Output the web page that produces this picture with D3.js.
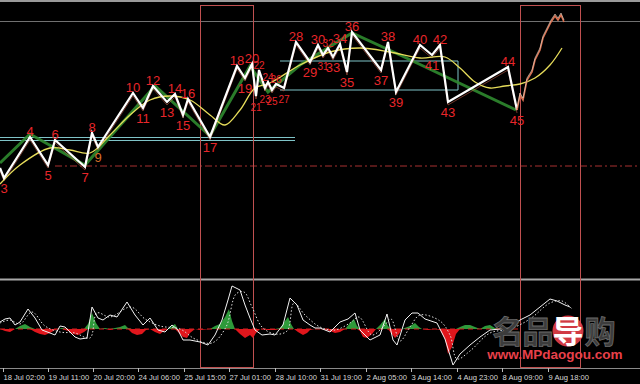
<!DOCTYPE html>
<html>
<head>
<meta charset="utf-8">
<script src="https://cdn.jsdelivr.net/npm/d3@7"></script>
<style>
  body { margin: 0; background: #000; }
  svg { display: block; }
</style>
</head>
<body>
<div id="chart"></div>
<script>
// chart size
var svgWidth = 640;
var svgHeight = 384;

// zigzag turning points: bar, price (pips above base)
var zzBars = [0, 4, 30, 48, 55, 85, 92, 98, 133, 143, 153, 167, 175, 183, 188, 210, 237, 245, 252, 256, 259,
  265, 268, 272, 276, 284, 296, 310, 318, 323, 328, 333, 340, 347, 352, 381, 388, 396, 420, 432, 440, 448, 508, 517];
var zzPrice = [110, 100, 141, 113, 138, 111, 145, 131, 185, 170, 192, 176, 184, 163, 179, 141, 212, 200, 214, 182, 208,
  190, 196, 188, 194, 190, 236, 216, 233, 223, 230, 221, 234, 206, 246, 208, 236, 186, 233, 223, 233, 176, 211, 168];
var zzLabels = ["", "3", "4", "5", "6", "7", "8", "9", "10", "11", "12", "13", "14", "15", "16", "17", "18", "19", "20", "21", "22",
  "23", "24", "25", "26", "27", "28", "29", "30", "31", "32", "33", "34", "35", "36", "37", "38", "39", "40", "41", "42", "43", "44", "45"];
// crowded labels drawn smaller
var smallLabels = ["21", "22", "23", "24", "25", "26", "27", "31", "32"];

// green swing line
var swBars = [0, 30, 85, 155, 210, 250, 268, 300, 352, 400, 516];
var swPrice = [115, 144, 113, 192, 142, 212, 186, 213, 245, 223, 168];

// yellow moving average
var maBars = [0, 20, 50, 70, 90, 110, 130, 150, 170, 190, 210, 225, 240, 255, 270, 300, 330, 360, 390, 420, 445, 460, 475, 490, 505, 520, 535, 550, 562];
var maPrice = [94, 113, 130, 128, 125, 143, 163, 178, 182, 178, 163, 153, 168, 190, 195, 213, 226, 230, 226, 220, 221, 210, 196, 190, 192, 194, 200, 213, 230];

// last price rally after point 45
var tailBars = [517, 520, 523, 527, 532, 535, 540, 543, 547, 551, 555, 558, 561, 564];
var tailPrice = [168, 183, 178, 198, 206, 218, 228, 240, 248, 256, 262, 258, 263, 256];

// oscillator line
var oscBars = [0, 5, 10, 15, 20, 28, 35, 42, 50, 55, 60, 65, 70, 75, 80, 87, 92, 98, 103, 110, 117, 127, 135, 143, 150, 158, 165,
  172, 178, 183, 190, 200, 208, 215, 222, 228, 232, 240, 245, 250, 255, 262, 270, 275, 283, 290, 297, 303, 310, 315, 320, 325,
  330, 340, 348, 355, 360, 365, 370, 380, 387, 393, 397, 405, 412, 418, 425, 437, 445, 453, 460, 470, 480, 490, 500, 510, 520,
  530, 540, 550, 557, 565, 570];
var oscVals = [7, 10, 11, 4, 7, 20, 11, -1, -4, -6, 3, 2, -3, -8, -10, -9, 22, 11, 9, 14, 12, 27, 14, 4, 11, -1, -3,
  4, -1, -11, -11, -13, -16, -6, 9, 29, 43, 39, 24, 11, -1, -6, -5, -6, 4, 31, 24, 9, 4, 1, 1, -1,
  -3, 7, 10, 16, -1, -6, -11, -6, 15, -11, -16, 9, 16, 16, 10, 6, -10, -36, -25, -16, -8, -1, 0, 1, 9,
  14, 22, 30, 28, 24, 22];

// signal line (dotted)
var sigBars = [0, 10, 20, 32, 45, 60, 75, 90, 97, 110, 131, 145, 160, 180, 195, 212, 226, 236, 244, 252, 262, 275, 287,
  294, 305, 320, 335, 350, 359, 372, 384, 391, 400, 410, 420, 440, 450, 457, 470, 490, 510, 530, 550, 562, 572];
var sigVals = [6, 9, 5, 17, 3, -3, -4, -9, 16, 12, 22, 10, 3, 0, -10, -14, 2, 35, 37, 22, 2, -5, -2,
  26, 14, 2, -1, 6, 12, -6, 3, 10, -12, 2, 14, 8, -6, -30, -22, -4, 0, 10, 26, 28, 20];

// histogram
var histBars = [0, 5, 10, 15, 20, 25, 30, 35, 40, 45, 50, 55, 58, 62, 68, 73, 78, 84, 88, 92, 96, 100, 105, 110, 115, 120,
  125, 128, 132, 137, 142, 146, 150, 155, 160, 164, 168, 172, 175, 178, 183, 187, 190, 195, 200, 210, 215, 220, 225, 229,
  232, 235, 240, 245, 250, 253, 256, 260, 268, 275, 280, 285, 288, 291, 294, 298, 303, 307, 310, 315, 320, 325, 330, 335,
  340, 345, 350, 354, 357, 360, 363, 367, 372, 376, 380, 385, 388, 391, 395, 399, 402, 410, 415, 419, 422, 428, 435, 440,
  445, 448, 452, 456, 460, 465, 470, 475, 480, 485, 490, 495, 500, 510];
var histVals = [0, -2, -3, 0, 3, 5, 2, -3, -5, -6, -4, -1, 0, 1, -2, -5, -6, -3, 5, 16, 6, 0, 1, -1, 1, 2,
  4, 1, -4, -6, -5, -1, 0, -3, -5, -2, 0, 3, 5, -3, -8, -9, -4, 0, -1, 0, 3, 5, 12, 20,
  8, 0, -5, -9, -6, -9, -4, 0, -1, -1, 1, 8, 12, 5, 0, -3, -6, -4, -1, 0, 0, -1, -2, -4,
  -3, 0, 6, 10, 3, -2, -8, -9, -5, 0, 4, 10, 3, -4, -9, -5, 0, 3, 6, 2, 0, -1, 0, -1,
  -10, -25, -18, -5, 2, 4, 4, 2, 0, 3, 4, 1, 0, 0];

// time axis labels
var tickBars = [3, 48, 93, 138, 184, 229, 275, 320, 366, 411, 457, 502, 548];
var tickLabels = ["18 Jul 02:00", "19 Jul 11:00", "20 Jul 20:00", "24 Jul 06:00", "25 Jul 15:00", "27 Jul 01:00",
  "28 Jul 10:00", "31 Jul 19:00", "2 Aug 05:00", "3 Aug 14:00", "4 Aug 23:00", "8 Aug 09:00", "9 Aug 18:00"];

// levels
var supportLevel = 140.5;
var boxTop = 217, boxBottom = 188, boxStart = 280, boxEnd = 458;
var redLevel = 112;
var zoneStart = [200, 520], zoneEnd = [253, 580];

var svg = d3.select("#chart").append("svg")
  .attr("width", svgWidth)
  .attr("height", svgHeight);

svg.append("rect").attr("width", svgWidth).attr("height", svgHeight).attr("fill", "#000");

var x = d3.scaleLinear().domain([0, 640]).range([0, 640]);
var y = d3.scaleLinear().domain([0, 280]).range([278, -2]);
var yo = d3.scaleLinear().domain([-40, 45]).range([369, 284]);

// frame lines
svg.append("line").attr("x1", 0).attr("x2", 640).attr("y1", 1).attr("y2", 1).attr("stroke", "#9a9a9a").attr("stroke-width", 2);
svg.append("line").attr("x1", 0).attr("x2", 640).attr("y1", 21.5).attr("y2", 21.5).attr("stroke", "#707070");
svg.append("line").attr("x1", 0).attr("x2", 640).attr("y1", 279.5).attr("y2", 279.5).attr("stroke", "#a8a8a8").attr("stroke-width", 2);
svg.append("line").attr("x1", 0).attr("x2", 640).attr("y1", 368.5).attr("y2", 368.5).attr("stroke", "#8a8a8a");

// red dashed level
svg.append("line")
  .attr("x1", x(55)).attr("x2", 640)
  .attr("y1", y(redLevel)).attr("y2", y(redLevel))
  .attr("stroke", "#a83030").attr("stroke-dasharray", "7,3,2,3");

// cyan support (double line)
[0, 3].forEach(function(off) {
  svg.append("line")
    .attr("x1", x(0)).attr("x2", x(295))
    .attr("y1", y(supportLevel) + off).attr("y2", y(supportLevel) + off)
    .attr("stroke", "#7fc4c8").attr("stroke-width", 1);
});
svg.append("path")
  .attr("d", "M" + x(boxStart) + "," + y(boxTop) + "H" + x(boxEnd) + "V" + y(boxBottom) + "H" + x(boxStart))
  .attr("fill", "none").attr("stroke", "#7fc4c8");

// pink zones
zoneStart.forEach(function(s, i) {
  svg.append("rect")
    .attr("x", x(s) + 0.5).attr("y", 5.5)
    .attr("width", x(zoneEnd[i]) - x(s)).attr("height", 362)
    .attr("fill", "none").attr("stroke", "#c05050");
});

var line = d3.line().x(function(d) { return x(d[0]); }).y(function(d) { return y(d[1]); });

// green swing
svg.append("path").datum(d3.zip(swBars, swPrice)).attr("d", line)
  .attr("fill", "none").attr("stroke", "#2f8a2f").attr("stroke-width", 3).attr("opacity", 0.9);

// thin candle-ish trace around zigzag
svg.append("path").datum(d3.zip(zzBars, zzPrice.map(function(p) { return p - 3; }))).attr("d", line)
  .attr("fill", "none").attr("stroke", "#c86048").attr("stroke-width", 0.8).attr("opacity", 0.7);

// yellow MA
svg.append("path").datum(d3.zip(maBars, maPrice)).attr("d", line.curve(d3.curveCatmullRom))
  .attr("fill", "none").attr("stroke", "#e6dc5a").attr("stroke-width", 1.3);
line.curve(d3.curveLinear);

// white zigzag
svg.append("path").datum(d3.zip(zzBars, zzPrice)).attr("d", line)
  .attr("fill", "none").attr("stroke", "#fff").attr("stroke-width", 2.2).attr("stroke-linejoin", "miter");

// price tail
svg.append("path").datum(d3.zip(tailBars, tailPrice)).attr("d", line)
  .attr("fill", "none").attr("stroke", "#d87050").attr("stroke-width", 1.6);
svg.append("path").datum(d3.zip(tailBars, tailPrice.map(function(p) { return p + 2; }))).attr("d", line)
  .attr("fill", "none").attr("stroke", "#f0e0d0").attr("stroke-width", 0.6);

// point labels: odd numbers sit below lows, even above highs
svg.append("g").selectAll("text")
  .data(d3.range(1, zzBars.length))
  .enter().append("text")
  .attr("x", function(i) { return x(zzBars[i]); })
  .attr("y", function(i) { return (+zzLabels[i]) % 2 ? y(zzPrice[i]) + 15 : y(zzPrice[i]) - 1; })
  .attr("text-anchor", "middle")
  .attr("font-family", "Liberation Sans, Arial, sans-serif")
  .attr("font-size", function(i) { return smallLabels.indexOf(zzLabels[i]) >= 0 ? 10 : 13; })
  .attr("fill", function(i) { return zzLabels[i] === "9" ? "#d8702a" : "#e8262a"; })
  .text(function(i) { return zzLabels[i]; });

// ---------------- oscillator panel
var area = d3.area().x(function(d) { return x(d[0]); }).y0(yo(0));
var hist = d3.zip(histBars, histVals);
svg.append("path").datum(hist)
  .attr("d", area.y1(function(d) { return yo(Math.max(d[1], 0)); }))
  .attr("fill", "#2e9a3a");
svg.append("path").datum(hist)
  .attr("d", area.y1(function(d) { return yo(Math.min(d[1], 0)); }))
  .attr("fill", "#e0161c");

svg.append("line").attr("x1", 0).attr("x2", x(520)).attr("y1", yo(0)).attr("y2", yo(0))
  .attr("stroke", "#d02020").attr("stroke-dasharray", "5,4");

var oline = d3.line().x(function(d) { return x(d[0]); }).y(function(d) { return yo(d[1]); });
svg.append("path").datum(d3.zip(sigBars, sigVals)).attr("d", oline.curve(d3.curveCatmullRom))
  .attr("fill", "none").attr("stroke", "#ddd").attr("stroke-width", 1).attr("stroke-dasharray", "1.5,2");
svg.append("path").datum(d3.zip(oscBars, oscVals)).attr("d", oline.curve(d3.curveLinear))
  .attr("fill", "none").attr("stroke", "#f2f2f2").attr("stroke-width", 1);

// time axis
var xAxis = svg.append("g");
xAxis.selectAll("line").data(tickBars).enter().append("line")
  .attr("x1", function(d) { return x(d) + 0.5; }).attr("x2", function(d) { return x(d) + 0.5; })
  .attr("y1", 368).attr("y2", 372).attr("stroke", "#bbb");
xAxis.selectAll("text").data(tickLabels).enter().append("text")
  .attr("x", function(d, i) { return x(tickBars[i]) + 0.5; })
  .attr("y", 380)
  .attr("font-family", "Liberation Sans, Arial, sans-serif")
  .attr("font-size", 7.6)
  .attr("fill", "#d8d8d8")
  .text(function(d) { return d; });

// watermark
var wm = svg.append("g");
wm.append("circle").attr("cx", 568).attr("cy", 331).attr("r", 15.5).attr("fill", "#e8404a").attr("opacity", 0.9);
var chars = ["名", "品", "导", "购"];
var charX = [508, 538, 568, 600];
wm.selectAll("text.c").data(chars).enter().append("text")
  .attr("x", function(d, i) { return charX[i]; })
  .attr("y", 343)
  .attr("text-anchor", "middle")
  .attr("font-family", "Noto Sans CJK SC, sans-serif")
  .attr("font-size", 31)
  .attr("font-weight", "bold")
  .attr("fill", function(d, i) { return i === 2 ? "#fff" : "#3c3c3c"; })
  .attr("stroke", function(d, i) { return i === 2 ? "none" : "#6a6a6a"; })
  .attr("stroke-width", 0.8)
  .text(function(d) { return d; });
wm.append("text").attr("x", 555).attr("y", 359).attr("text-anchor", "middle")
  .attr("font-family", "Liberation Sans, Arial, sans-serif").attr("font-size", 13.5).attr("font-weight", "bold")
  .attr("fill", "#e8404a").text("www.MPdaogou.com");
</script>
</body>
</html>
